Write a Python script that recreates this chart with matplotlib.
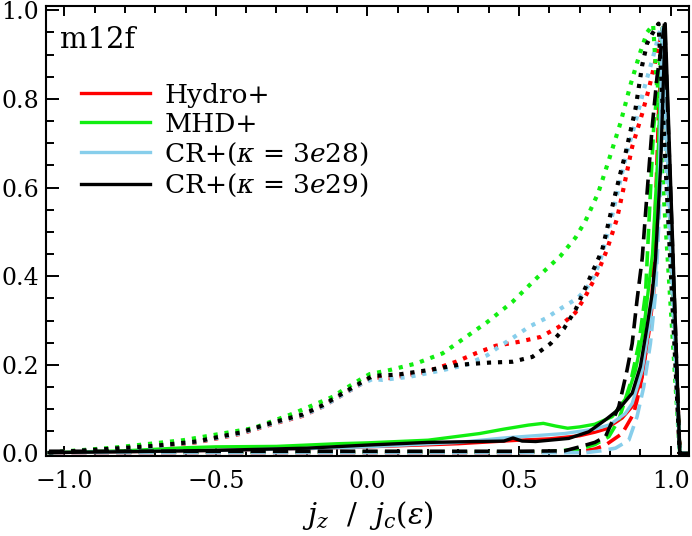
import numpy as np
import matplotlib.pyplot as plt
from matplotlib.ticker import MultipleLocator

plt.rcParams['font.family'] = ['DejaVu Serif']
plt.rcParams['mathtext.fontset'] = 'dejavuserif'

# simulation labels and colours
labels = ['Hydro+', 'MHD+', r'CR+($\kappa$ = $3e28$)', r'CR+($\kappa$ = $3e29$)']
colors = ['#ff0000', '#11ee11', '#87ceeb', '#000000']

# solid curves (x, y)
hydro_solid_x = [-1.05, -0.8, -0.5, -0.2, 0.0, 0.3, 0.5, 0.6, 0.7, 0.75, 0.785, 0.84, 0.873, 0.906, 0.928, 0.944, 0.96, 0.972, 1.03, 1.06]
hydro_solid_y = [0.002, 0.004, 0.007, 0.011, 0.015, 0.022, 0.03, 0.033, 0.04, 0.048, 0.055, 0.08, 0.106, 0.173, 0.271, 0.361, 0.6, 0.96, 0.0, 0.0]
mhd_solid_x = [-1.05, -0.8, -0.6, -0.5, -0.3, -0.1, 0.0, 0.2, 0.37, 0.45, 0.53, 0.58, 0.62, 0.66, 0.7, 0.75, 0.807, 0.856, 0.884, 0.911, 0.94, 0.96, 0.972, 1.03, 1.06]
mhd_solid_y = [0.002, 0.006, 0.013, 0.015, 0.016, 0.022, 0.024, 0.03, 0.045, 0.055, 0.064, 0.068, 0.062, 0.057, 0.06, 0.066, 0.083, 0.128, 0.188, 0.28, 0.45, 0.7, 0.96, 0.0, 0.0]
cr28_solid_x = [-1.05, -0.8, -0.5, -0.2, 0.0, 0.3, 0.45, 0.55, 0.65, 0.75, 0.8, 0.85, 0.873, 0.906, 0.928, 0.95, 0.962, 0.972, 1.03, 1.06]
cr28_solid_y = [0.002, 0.004, 0.007, 0.011, 0.015, 0.025, 0.035, 0.04, 0.045, 0.055, 0.065, 0.09, 0.113, 0.188, 0.286, 0.399, 0.6, 0.96, 0.0, 0.0]
cr29_solid_x = [-1.05, -0.8, -0.5, -0.2, 0.0, 0.2, 0.45, 0.48, 0.51, 0.555, 0.664, 0.73, 0.785, 0.829, 0.873, 0.9, 0.922, 0.939, 0.95, 0.967, 0.982, 1.03, 1.06]
cr29_solid_y = [0.002, 0.004, 0.007, 0.012, 0.019, 0.025, 0.028, 0.035, 0.028, 0.027, 0.034, 0.049, 0.076, 0.1, 0.136, 0.196, 0.286, 0.361, 0.44, 0.65, 0.97, 0.0, 0.0]

# dashed curves
hydro_dash_x = [-1.05, -0.5, 0.0, 0.5, 0.7, 0.75, 0.785, 0.84, 0.878, 0.9, 0.922, 0.939, 0.952, 0.96, 0.975, 1.03, 1.06]
hydro_dash_y = [0.002, 0.002, 0.002, 0.002, 0.004, 0.01, 0.019, 0.045, 0.09, 0.15, 0.248, 0.361, 0.6, 0.77, 0.955, 0.0, 0.0]
mhd_dash_x = [-1.05, -0.5, 0.0, 0.5, 0.6, 0.7, 0.75, 0.796, 0.829, 0.867, 0.895, 0.917, 0.933, 0.944, 0.96, 0.975, 1.03, 1.06]
mhd_dash_y = [0.003, 0.003, 0.003, 0.003, 0.004, 0.01, 0.02, 0.038, 0.076, 0.158, 0.248, 0.361, 0.587, 0.737, 0.85, 0.96, 0.0, 0.0]
cr28_dash_x = [-1.05, -0.5, 0.0, 0.5, 0.72, 0.77, 0.818, 0.862, 0.889, 0.911, 0.933, 0.95, 0.966, 0.975, 1.03, 1.06]
cr28_dash_y = [0.002, 0.002, 0.002, 0.002, 0.002, 0.006, 0.012, 0.03, 0.083, 0.15, 0.248, 0.361, 0.6, 0.95, 0.0, 0.0]
cr29_dash_x = [-1.05, -0.5, 0.0, 0.5, 0.65, 0.7, 0.75, 0.785, 0.829, 0.856, 0.873, 0.889, 0.906, 0.922, 0.939, 0.955, 0.98, 1.03, 1.06]
cr29_dash_y = [0.005, 0.005, 0.005, 0.005, 0.006, 0.015, 0.025, 0.038, 0.106, 0.188, 0.248, 0.346, 0.44, 0.587, 0.737, 0.85, 0.971, 0.0, 0.0]

# dotted curves
hydro_dot_x = [-1.05, -0.86, -0.706, -0.564, -0.421, -0.311, -0.213, -0.147, -0.081, -0.026, 0.017, 0.072, 0.193, 0.292, 0.357, 0.423, 0.5, 0.571, 0.632, 0.686, 0.719, 0.758, 0.79, 0.823, 0.845, 0.873, 0.906, 0.928, 0.95, 0.971, 1.03, 1.06]
hydro_dot_y = [0.002, 0.009, 0.015, 0.025, 0.044, 0.067, 0.085, 0.106, 0.133, 0.155, 0.172, 0.17, 0.184, 0.207, 0.226, 0.243, 0.252, 0.263, 0.286, 0.318, 0.355, 0.406, 0.46, 0.53, 0.6, 0.692, 0.767, 0.823, 0.887, 0.95, 0.0, 0.0]
mhd_dot_x = [-1.05, -0.838, -0.607, -0.377, -0.245, -0.114, -0.081, -0.026, 0.007, 0.072, 0.16, 0.248, 0.396, 0.478, 0.56, 0.637, 0.686, 0.719, 0.761, 0.796, 0.834, 0.867, 0.898, 0.922, 0.942, 1.03, 1.06]
mhd_dot_y = [0.002, 0.013, 0.03, 0.057, 0.09, 0.128, 0.143, 0.166, 0.179, 0.188, 0.203, 0.226, 0.297, 0.342, 0.397, 0.446, 0.487, 0.525, 0.588, 0.662, 0.745, 0.831, 0.902, 0.95, 0.968, 0.0, 0.0]
cr28_dot_x = [-1.05, -0.86, -0.706, -0.564, -0.421, -0.311, -0.213, -0.147, -0.081, -0.026, 0.017, 0.05, 0.138, 0.248, 0.325, 0.396, 0.434, 0.484, 0.533, 0.588, 0.637, 0.692, 0.719, 0.747, 0.768, 0.801, 0.829, 0.856, 0.884, 0.911, 0.94, 0.965, 1.03, 1.06]
cr28_dot_y = [0.002, 0.009, 0.016, 0.026, 0.045, 0.068, 0.086, 0.106, 0.133, 0.155, 0.168, 0.166, 0.173, 0.188, 0.2, 0.222, 0.241, 0.263, 0.286, 0.305, 0.327, 0.35, 0.369, 0.399, 0.436, 0.519, 0.602, 0.68, 0.748, 0.82, 0.89, 0.955, 0.0, 0.0]
cr29_dot_x = [-1.05, -0.86, -0.706, -0.564, -0.421, -0.311, -0.213, -0.147, -0.081, -0.026, 0.017, 0.1, 0.2, 0.3, 0.401, 0.478, 0.544, 0.604, 0.648, 0.686, 0.73, 0.774, 0.807, 0.834, 0.851, 0.884, 0.906, 0.922, 0.939, 0.96, 1.03, 1.06]
cr29_dot_y = [0.002, 0.01, 0.017, 0.027, 0.047, 0.07, 0.088, 0.109, 0.136, 0.158, 0.175, 0.178, 0.188, 0.2, 0.205, 0.207, 0.218, 0.248, 0.282, 0.324, 0.391, 0.459, 0.556, 0.632, 0.677, 0.778, 0.876, 0.925, 0.947, 0.97, 0.0, 0.0]

solid = [(hydro_solid_x, hydro_solid_y), (mhd_solid_x, mhd_solid_y),
         (cr28_solid_x, cr28_solid_y), (cr29_solid_x, cr29_solid_y)]
dashed = [(hydro_dash_x, hydro_dash_y), (mhd_dash_x, mhd_dash_y),
          (cr28_dash_x, cr28_dash_y), (cr29_dash_x, cr29_dash_y)]
dotted = [(hydro_dot_x, hydro_dot_y), (mhd_dot_x, mhd_dot_y),
          (cr28_dot_x, cr28_dot_y), (cr29_dot_x, cr29_dot_y)]

fig = plt.figure(figsize=(6.92, 5.36), dpi=100)
ax = fig.add_axes([0.0665, 0.149, 0.929, 0.84])

for i in range(4):
    ax.plot(*dotted[i], color=colors[i], lw=3.0, ls=':')
    ax.plot(*dashed[i], color=colors[i], lw=2.6, ls=(0, (4.2, 2.0)))
    ax.plot(*solid[i], color=colors[i], lw=2.4, label=labels[i])

ax.set_xlim(-1.06, 1.06)
ax.set_ylim(-0.006, 1.01)
ax.xaxis.set_major_locator(MultipleLocator(0.5))
ax.xaxis.set_minor_locator(MultipleLocator(0.1))
ax.yaxis.set_major_locator(MultipleLocator(0.2))
ax.yaxis.set_minor_locator(MultipleLocator(0.05))
ax.tick_params(which='both', direction='in', top=True, right=True, width=1.4, labelsize=17)
ax.tick_params(axis='x', which='major', length=7.5, pad=10)
ax.tick_params(axis='x', which='minor', length=5)
ax.tick_params(axis='y', which='major', length=9, pad=5)
ax.tick_params(axis='y', which='minor', length=5.5)
for sp in ax.spines.values():
    sp.set_linewidth(1.5)

ax.set_xlabel(r'$j_z\ \ /\ \ j_c(\epsilon)$', fontsize=21, labelpad=4)
ax.text(0.022, 0.955, 'm12f', transform=ax.transAxes, fontsize=21, va='top', ha='left')

ax.legend(loc='upper left', bbox_to_anchor=(0.038, 0.853), frameon=False, fontsize=19,
          handlelength=2.6, handletextpad=0.55, labelspacing=0.15, borderaxespad=0)

fig.savefig('out.png', dpi=100)
